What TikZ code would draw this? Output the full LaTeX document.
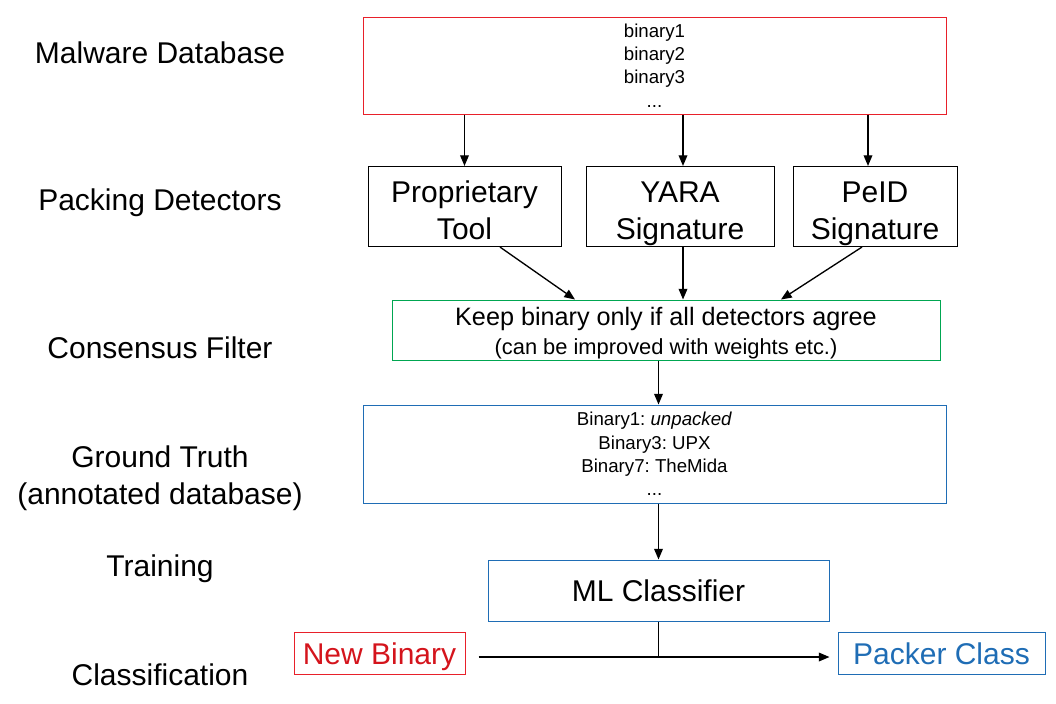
\documentclass[tikz,border=0pt]{standalone}
\usepackage{fontspec}
\setmainfont{Liberation Sans}
\usetikzlibrary{positioning,arrows.meta}
\definecolor{dbred}{HTML}{E8202A}
\definecolor{nbred}{HTML}{D4141C}
\definecolor{gtblue}{HTML}{1F6DB5}
\definecolor{filtgreen}{HTML}{00A651}
\frenchspacing
% fixed height/depth for the detector box lines
\newcommand{\toptrim}{\rule{0pt}{27.3pt}}
\newcommand{\bottrim}{\rule[-5pt]{0pt}{0pt}}

\begin{document}
\begin{tikzpicture}[x=0.75pt, y=-0.75pt,
  rowlabel/.style={font=\fontsize{22.5}{26.25}\selectfont, align=center},
  listbox/.style={draw, line width=0.75pt, align=center, inner sep=0pt,
    font=\fontsize{14}{17.6}\selectfont},
  toolbox/.style={draw=black, line width=0.75pt, align=center, inner sep=0pt,
    minimum height=59.25pt, font=\fontsize{22.5}{27.75}\selectfont},
  bigbox/.style={draw, line width=0.75pt, inner sep=0pt, text depth=0pt,
    font=\fontsize{22.5}{27}\selectfont},
  flow/.style={-{Triangle[length=8pt,width=6.5pt]}, black, line width=1pt}]
  \useasboundingbox (0,0) rectangle (1056,703);

  % row labels on the left
  \node[rowlabel] (lmal) at (160,53) {Malware Database};
  \node[rowlabel] (lpack) at (160,203) {Packing Detectors};
  \node[rowlabel] (lcons) at (160,348) {Consensus Filter};
  \node[rowlabel] (lgt) at (160,478) {Ground Truth\\[1.5pt](annotated database)};
  \node[rowlabel] (ltrain) at (160,569) {Training};
  \node[rowlabel] (lclass) at (160,675) {Classification};

  % pipeline
  \node[listbox, draw=dbred, minimum width=437.25pt, minimum height=72.75pt]
    (db) at (654.5,65.5) {binary1\\binary2\\binary3\\...};
  \node[toolbox, minimum width=144.75pt] (prop) at (464.5,206.5)
    {\toptrim Proprietary\\Tool\bottrim};
  \node[toolbox, minimum width=141pt] (yara) at (680,206.5)
    {\toptrim YARA\\Signature\bottrim};
  \node[toolbox, minimum width=123pt] (peid) at (875,206.5)
    {\toptrim PeID\\Signature\bottrim};
  \node[draw=filtgreen, line width=0.75pt, align=center, inner sep=0pt,
    minimum width=411pt, minimum height=45pt] (cons) at (666,330)
    {\fontsize{18.9}{21.75}\selectfont\rule{0pt}{18.3pt}Keep binary only if all detectors agree\\[4.5pt]
     \fontsize{16.4}{21.75}\selectfont (can be improved with weights etc.)};
  \node[listbox, draw=gtblue, minimum width=437.25pt, minimum height=73.5pt]
    (gt) at (654.5,454) {Binary1: \emph{unpacked}\\Binary3: UPX\\Binary7: TheMida\\...};
  \node[bigbox, draw=gtblue, minimum width=255.75pt, minimum height=45.75pt]
    (ml) at (658.5,590.5) {ML Classifier};
  \node[bigbox, draw=dbred, text=nbred, minimum width=128.25pt, minimum height=31.5pt]
    (nb) at (379.5,653) {\raisebox{-1.5pt}{New Binary}};
  \node[bigbox, draw=gtblue, text=gtblue, minimum width=155.25pt, minimum height=31.5pt]
    (pc) at (941.5,653) {\raisebox{-1.5pt}{Packer Class}};

  \draw[flow] (db.south -| prop) -- (prop);
  \draw[flow] ([xshift=2.25pt]db.south -| yara) -- ([xshift=2.25pt]yara.north);
  \draw[flow] ([xshift=-5.25pt]db.south -| peid) -- ([xshift=-5.25pt]peid.north);
  \draw[flow] ([xshift=26.6pt]prop.south) -- ([xshift=-68.25pt]cons.north);
  \draw[flow] ([xshift=2.25pt]yara.south) -- ([xshift=2.25pt]yara.south |- cons.north);
  \draw[flow] ([xshift=-9.75pt]peid.south) -- ([xshift=86.25pt]cons.north);
  \draw[flow] (cons.south -| ml) -- (gt.north -| ml);
  \draw[flow] (gt.south -| ml) -- (ml);
  \coordinate (join) at ([yshift=-3pt]ml.south |- nb.east);
  \draw[flow] ([xshift=9.75pt,yshift=-3pt]nb.east) -- ([xshift=-6pt,yshift=-3pt]pc.west);
  \draw[line width=1pt] (ml.south) -- (join);
\end{tikzpicture}
\end{document}
